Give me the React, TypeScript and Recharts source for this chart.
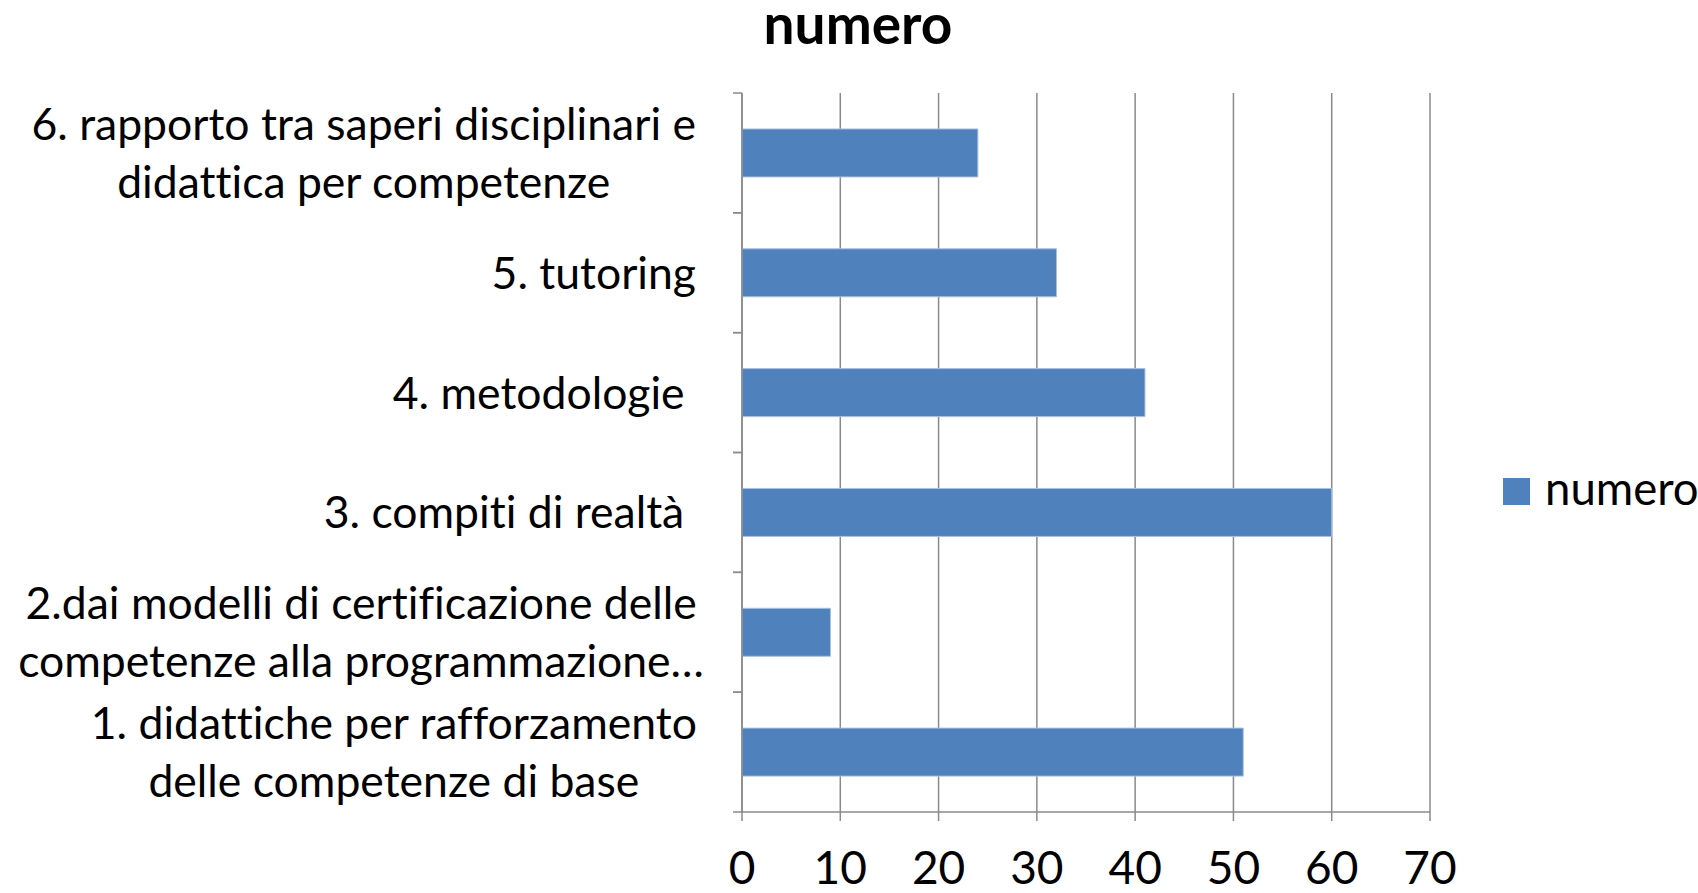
import React from "react";
import { BarChart, Bar, XAxis, YAxis, CartesianGrid } from "recharts";

const categories = [
  "1. didattiche per rafforzamento\ndelle competenze di base",
  "2.dai modelli di certificazione delle\ncompetenze alla programmazione…",
  "3. compiti di realtà ",
  "4. metodologie ",
  "5. tutoring",
  "6. rapporto tra saperi disciplinari e\ndidattica per competenze",
];
const numero = [51, 9, 60, 41, 32, 24];
const xTicks = [0, 10, 20, 30, 40, 50, 60, 70];
const seriesName = "numero";

const data = categories.map((name, i) => ({ name, numero: numero[i] }));

const FONT = "Lato, 'Open Sans', sans-serif";
const GRAY = "#8a8a8a";
const BLUE = "#4F81BD";
const LABEL_SIZE = 44.5;
const NO_LIGA: React.CSSProperties = { whiteSpace: "pre", fontVariantLigatures: "none" };

if (typeof document !== "undefined") document.body.style.margin = "0";

let ctx: CanvasRenderingContext2D | null = null;
function textWidth(s: string) {
  if (!ctx && typeof document !== "undefined") ctx = document.createElement("canvas").getContext("2d");
  if (!ctx) return s.length * LABEL_SIZE * 0.45;
  ctx.font = `${LABEL_SIZE}px Lato`;
  return ctx.measureText(s).width;
}

// category label (lines centred in a right-aligned block) + tick marks on band boundaries
function CatTick(props: any) {
  const { x, y, payload } = props;
  const lines = String(payload.value).split("\n");
  const half = payload.offset || 60;
  const lh = 58;
  const right = x - 46;
  const w = Math.max(...lines.map(textWidth));
  // the truncated label (ends with "…") spills a little past the right edge in the original
  const spill = lines.some((l) => l.endsWith("…")) ? 8 : 0;
  const cx = right - w / 2 + spill;
  const y0 = y - ((lines.length - 1) * lh) / 2;
  return (
    <g>
      <line x1={x - 9} x2={x} y1={y - half} y2={y - half} stroke={GRAY} strokeWidth={1.5} />
      <line x1={x - 9} x2={x} y1={y + half} y2={y + half} stroke={GRAY} strokeWidth={1.5} />
      <text textAnchor="middle" fontFamily={FONT} fontSize={LABEL_SIZE} fill="#000" style={NO_LIGA}>
        {lines.map((l, i) => (
          <tspan key={i} x={cx} y={y0 + i * lh} dy="0.36em">
            {l}
          </tspan>
        ))}
      </text>
    </g>
  );
}

export default function App() {
  return (
    <div style={{ position: "relative", width: 1698, height: 893, background: "#fff" }}>
      <BarChart
        width={1698}
        height={893}
        data={data}
        layout="vertical"
        margin={{ top: 93, right: 268, bottom: 0, left: 0 }}
        barCategoryGap="30%"
      >
        <CartesianGrid horizontal={false} stroke={GRAY} strokeWidth={1.5} />
        <XAxis
          type="number"
          domain={[0, 70]}
          ticks={xTicks}
          interval={0}
          height={81}
          tickSize={9}
          tickMargin={30}
          stroke={GRAY}
          axisLine={{ stroke: GRAY, strokeWidth: 1.5 }}
          tickLine={{ stroke: GRAY, strokeWidth: 1.5 }}
          tick={{ fill: "#000", fontSize: 46, fontFamily: FONT }}
        />
        <YAxis
          type="category"
          dataKey="name"
          reversed
          width={742}
          tickSize={0}
          tickMargin={0}
          tickLine={false}
          interval={0}
          axisLine={{ stroke: GRAY, strokeWidth: 1.5 }}
          tick={<CatTick />}
        />
        <Bar dataKey="numero" name={seriesName} fill={BLUE} stroke="#a9c1de" strokeWidth={1} isAnimationActive={false} />
      </BarChart>
      <svg width={1698} height={893} style={{ position: "absolute", left: 0, top: 0, pointerEvents: "none" }}>
        <text x={858} y={44} textAnchor="middle" fontFamily={FONT} fontWeight="bold" fontSize={55} fill="#000">
          {seriesName}
        </text>
        <rect x={1503} y={478} width={27} height={27} fill={BLUE} />
        <text x={1545} y={505} fontFamily={FONT} fontSize={45.5} fill="#000">
          {seriesName}
        </text>
      </svg>
    </div>
  );
}
